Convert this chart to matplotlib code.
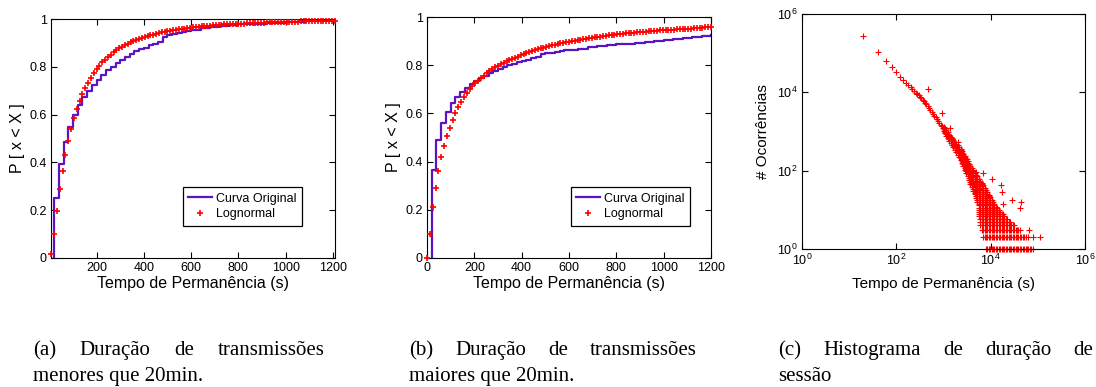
import math
import matplotlib
matplotlib.use('Agg')
import matplotlib.pyplot as plt
from matplotlib.lines import Line2D
from matplotlib.ticker import FuncFormatter, NullLocator

plt.rcParams['font.family'] = ['Liberation Sans', 'DejaVu Sans']
plt.rcParams['mathtext.fontset'] = 'custom'
plt.rcParams['mathtext.rm'] = 'Liberation Sans'
plt.rcParams['mathtext.default'] = 'regular'

PURPLE = '#5A14C4'
RED = '#FF0000'

# (a) transmissions shorter than 20 min: empirical CDF (steps every 20 s) and lognormal fit
A_ORIG_X = [20, 20, 40, 60, 80, 100, 120, 140, 160, 180, 200, 220, 240, 260, 280, 300, 320, 340, 360,
            380, 400, 420, 440, 460, 480, 500, 520, 540, 560, 580, 600, 640, 680, 720, 760, 800, 840,
            880, 920, 960, 1000, 1040, 1080, 1120, 1160, 1200]
A_ORIG_Y = [0.0, 0.25, 0.395, 0.485, 0.55, 0.60, 0.64, 0.675, 0.70, 0.725, 0.745, 0.765, 0.785, 0.80,
            0.815, 0.83, 0.84, 0.855, 0.865, 0.875, 0.88, 0.89, 0.895, 0.905, 0.925, 0.932, 0.937, 0.942,
            0.946, 0.95, 0.954, 0.961, 0.966, 0.970, 0.974, 0.977, 0.979, 0.981, 0.983, 0.985, 0.987,
            0.989, 0.991, 0.993, 0.995, 0.997]
A_LOGN_X = [8, 20, 32, 44, 56, 68, 80, 92, 104, 116, 128, 140, 152, 164, 176, 188, 200, 212, 224, 236,
            248, 260, 272, 284, 296, 308, 320, 332, 344, 356, 368, 380, 392, 404, 416, 428, 440, 452, 464,
            476, 488, 500, 512, 524, 536, 548, 560, 572, 584, 596, 608, 620, 632, 644, 656, 668, 680, 692,
            704, 716, 728, 740, 752, 764, 776, 788, 800, 812, 824, 836, 848, 860, 872, 884, 896, 908, 920,
            932, 944, 956, 968, 980, 992, 1004, 1016, 1028, 1040, 1052, 1064, 1076, 1088, 1100, 1112, 1124,
            1136, 1148, 1160, 1172, 1184, 1196, 1208]
A_LOGN_Y = [0.018, 0.101, 0.198, 0.287, 0.365, 0.433, 0.491, 0.541, 0.585, 0.623, 0.656, 0.685, 0.711,
            0.734, 0.755, 0.773, 0.790, 0.805, 0.818, 0.830, 0.841, 0.851, 0.861, 0.869, 0.877, 0.884,
            0.890, 0.897, 0.902, 0.908, 0.912, 0.917, 0.921, 0.925, 0.929, 0.932, 0.935, 0.938, 0.941,
            0.944, 0.946, 0.949, 0.951, 0.953, 0.955, 0.957, 0.959, 0.960, 0.962, 0.963, 0.965, 0.966,
            0.967, 0.969, 0.970, 0.971, 0.972, 0.973, 0.974, 0.975, 0.976, 0.977, 0.977, 0.978, 0.979,
            0.980, 0.980, 0.981, 0.981, 0.982, 0.983, 0.983, 0.984, 0.984, 0.985, 0.985, 0.986, 0.986,
            0.986, 0.987, 0.987, 0.988, 0.988, 0.988, 0.989, 0.989, 0.989, 0.989, 0.990, 0.990, 0.990,
            0.991, 0.991, 0.991, 0.991, 0.991, 0.992, 0.992, 0.992, 0.992, 0.993]

# (b) transmissions longer than 20 min
B_ORIG_X = [20, 20, 40, 60, 80, 100, 120, 140, 160, 180, 200, 220, 240, 260, 280, 300, 320, 340, 360,
            380, 400, 420, 440, 460, 480, 500, 520, 540, 560, 580, 600, 640, 680, 720, 760, 800, 840,
            880, 920, 960, 1000, 1040, 1080, 1120, 1160, 1200]
B_ORIG_Y = [0.0, 0.365, 0.49, 0.56, 0.607, 0.642, 0.668, 0.688, 0.705, 0.72, 0.733, 0.745, 0.756, 0.766,
            0.776, 0.785, 0.792, 0.799, 0.806, 0.812, 0.818, 0.823, 0.828, 0.833, 0.845, 0.849, 0.852,
            0.855, 0.858, 0.861, 0.864, 0.869, 0.874, 0.878, 0.882, 0.886, 0.890, 0.894, 0.898, 0.902,
            0.905, 0.909, 0.913, 0.917, 0.921, 0.925]
B_LOGN_X = [0, 12, 24, 36, 48, 60, 72, 84, 96, 108, 120, 132, 144, 156, 168, 180, 192, 204, 216, 228,
            240, 252, 264, 276, 288, 300, 312, 324, 336, 348, 360, 372, 384, 396, 408, 420, 432, 444, 456,
            468, 480, 492, 504, 516, 528, 540, 552, 564, 576, 588, 600, 612, 624, 636, 648, 660, 672, 684,
            696, 708, 720, 732, 744, 756, 768, 780, 792, 804, 816, 828, 840, 852, 864, 876, 888, 900, 912,
            924, 936, 948, 960, 972, 984, 996, 1008, 1020, 1032, 1044, 1056, 1068, 1080, 1092, 1104, 1116,
            1128, 1140, 1152, 1164, 1176, 1188, 1200]
B_LOGN_Y = [0.000, 0.100, 0.210, 0.290, 0.360, 0.420, 0.465, 0.505, 0.540, 0.573, 0.600, 0.625, 0.647,
            0.667, 0.685, 0.700, 0.713, 0.725, 0.736, 0.747, 0.757, 0.766, 0.775, 0.783, 0.791, 0.798,
            0.804, 0.810, 0.816, 0.821, 0.826, 0.831, 0.836, 0.841, 0.845, 0.850, 0.854, 0.858, 0.862,
            0.866, 0.870, 0.873, 0.876, 0.879, 0.882, 0.885, 0.888, 0.891, 0.893, 0.896, 0.898, 0.900,
            0.902, 0.904, 0.906, 0.908, 0.910, 0.912, 0.914, 0.916, 0.918, 0.919, 0.921, 0.922, 0.924,
            0.925, 0.927, 0.928, 0.929, 0.930, 0.932, 0.933, 0.934, 0.935, 0.936, 0.937, 0.938, 0.939,
            0.940, 0.941, 0.942, 0.943, 0.944, 0.945, 0.946, 0.946, 0.947, 0.948, 0.949, 0.949, 0.950,
            0.951, 0.952, 0.952, 0.953, 0.954, 0.955, 0.956, 0.957, 0.958, 0.959]

# (c) session duration histogram: head of the distribution, tail columns, isolated points
HEAD_X = [20, 40, 60, 80, 100, 120, 140, 160, 180, 200, 220, 240, 260, 280, 300, 320, 340, 360, 380,
          400, 430, 460, 490, 520, 560, 600, 640, 680, 720, 770, 820, 870, 920, 970]
HEAD_N = [270000, 107000, 63000, 44000, 33000, 25000, 21000, 17800, 15200, 13500, 12000, 10900, 9900,
          9100, 8400, 7700, 7050, 6500, 5950, 5500, 4950, 4400, 3950, 3570, 3160, 2820, 2530, 2280,
          2080, 1860, 1670, 1500, 1360, 1240]
TAIL_X = [1000, 1080, 1140, 1240, 1320, 1420, 1520, 1620, 1740, 1860, 2000, 2140, 2300, 2460, 2640,
          2820, 3020, 3240, 3460, 3720, 3980, 4260, 4580, 4900, 5240, 5620, 6020, 6460, 6920, 7420,
          7940, 8520, 9120, 9780, 10480, 11220, 12020, 12880, 13800, 14800, 15860, 16980, 18200, 19500,
          20900, 22380, 23980, 25700, 27540, 29520, 31620, 33880, 36300, 38900, 41680, 44660, 47860,
          51280, 54960, 58880, 63100, 67600, 72440, 77620]
TAIL_N = [
    [1020, 1150, 1300],
    [890, 1000, 1120, 1200],
    [776, 871, 977, 1070],
    [676, 759, 851, 955],
    [589, 661, 741, 830],
    [519, 582, 653, 740],
    [457, 513, 575, 646, 692],
    [398, 447, 501, 562, 617],
    [347, 389, 437, 490, 550],
    [299, 335, 376, 422, 480],
    [257, 288, 324, 363, 407, 447],
    [219, 245, 275, 309, 347, 395],
    [186, 209, 234, 263, 295, 331, 355],
    [155, 174, 195, 219, 245, 275, 309],
    [129, 145, 162, 182, 204, 229, 257, 269],
    [106, 119, 133, 150, 168, 188, 211, 232],
    [87, 98, 110, 123, 138, 155, 174, 198],
    [71, 80, 89, 100, 112, 126, 141, 158, 174],
    [58, 65, 72, 81, 91, 102, 115, 129, 148],
    [47, 52, 59, 66, 74, 83, 93, 104, 117, 131],
    [38, 43, 48, 54, 60, 68, 76, 85, 95, 107, 115],
    [31, 34, 38, 43, 48, 54, 61, 68, 76, 85, 96, 101],
    [25, 27, 31, 35, 39, 44, 49, 55, 62, 69, 78, 89],
    [20, 22, 25, 28, 32, 35, 40, 45, 50, 56, 63, 71, 79],
    [16, 18, 20, 22, 25, 28, 32, 35, 40, 45, 50, 56, 63, 72],
    [7, 8, 9, 10, 11, 13, 14, 16, 18, 20, 22, 25, 28, 32, 35, 40, 45, 50, 56, 63],
    [4, 5, 6, 7, 8, 9, 10, 11, 13, 14, 16, 18, 20, 22, 25, 28, 32, 36, 40, 45, 50, 56],
    [3, 4, 5, 6, 7, 8, 9, 10, 11, 13, 14, 16, 18, 20, 22, 25, 28, 32, 36, 40, 45, 49],
    [2, 3, 4, 5, 6, 7, 8, 9, 10, 11, 13, 14, 16, 18, 20, 22, 25, 28, 32, 36, 42],
    [2, 3, 4, 5, 6, 7, 8, 9, 10, 11, 13, 14, 16, 18, 20, 22, 25, 28, 32, 36],
    [1, 2, 3, 4, 5, 6, 7, 8, 9, 10, 11, 13, 14, 16, 18, 20, 22, 25, 28, 32],
    [1, 2, 3, 4, 5, 6, 7, 8, 9, 10, 11, 13, 14, 16, 18, 20, 22, 25, 28],
    [1, 2, 3, 4, 5, 6, 7, 8, 9, 10, 11, 13, 14, 16, 18, 20, 22, 24],
    [1, 2, 3, 4, 5, 6, 7, 8, 9, 10, 11, 13, 14, 16, 18, 21],
    [1, 2, 3, 4, 5, 6, 7, 8, 9, 10, 11, 13, 14, 16, 18],
    [1, 2, 3, 4, 5, 6, 7, 8, 9, 10, 11, 13, 14, 16],
    [1, 2, 3, 4, 5, 6, 7, 8, 9, 10, 11, 12, 14],
    [1, 2, 3, 4, 5, 6, 7, 8, 9, 10, 11, 12],
    [1, 2, 3, 4, 5, 6, 7, 8, 9, 10, 11],
    [1, 2, 3, 4, 5, 6, 7, 8, 9, 10],
    [1, 2, 3, 4, 5, 6, 7, 8, 9],
    [1, 2, 3, 4, 5, 6, 7, 8],
    [1, 2, 3, 4, 5, 6, 7, 8],
    [1, 2, 3, 4, 5, 6, 7],
    [1, 2, 3, 4, 5, 6],
    [1, 2, 3, 4, 5, 6],
    [1, 2, 3, 4, 5],
    [1, 2, 3, 4, 5],
    [1, 2, 3, 4],
    [1, 2, 3, 4],
    [1, 2, 3, 4],
    [1, 2, 3],
    [1, 2, 3],
    [1, 2, 3],
    [1, 2, 3],
    [1, 2],
    [1, 2],
    [1, 2],
    [1, 2],
    [1],
    [1, 2],
    [1],
    [1],
    [1],
]
OUT_X = [480, 940, 1380, 2000, 3160, 5000, 6800, 10500, 16600, 17400, 18200, 28200, 43700, 41700,
         64000, 78000, 112000]
OUT_N = [12500, 3000, 1230, 540, 200, 90, 88, 60, 43, 29, 14, 18, 16, 11, 3, 2, 2]

XLABEL = 'Tempo de Permanência (s)'
CAPTIONS = [('(a) Duração de transmissões', 'menores que 20min.', 33, 325),
            ('(b) Duração de transmissões', 'maiores que 20min.', 409, 697),
            ('(c) Histograma de duração de', 'sessão', 778, 1093)]

W, H = 1096, 387
fig = plt.figure(figsize=(W / 100, H / 100), dpi=100)


def style(ax):
    ax.tick_params(direction='in', top=True, right=True, length=4, width=0.8, labelsize=9, pad=3)
    for s in ax.spines.values():
        s.set_linewidth(0.8)


def cdf_panel(rect, ox, oy, lx, ly, xlim, xticks, anchor):
    ax = fig.add_axes(rect)
    ax.plot(ox, oy, color=PURPLE, lw=1.6, drawstyle='steps-post', zorder=2)
    ax.plot(lx, ly, '+', color=RED, ms=5, mew=1.2, clip_on=False, zorder=3)
    ax.set_xlim(*xlim)
    ax.set_ylim(0, 1)
    ax.set_xticks(xticks)
    ax.set_yticks([0, 0.2, 0.4, 0.6, 0.8, 1])
    ax.set_yticklabels(['0', '0.2', '0.4', '0.6', '0.8', '1'])
    ax.set_xlabel(XLABEL, fontsize=11.5, labelpad=1)
    ax.set_ylabel('P [ x < X ]', fontsize=11.5, labelpad=3)
    style(ax)
    handles = [Line2D([], [], color=PURPLE, lw=1.6),
               Line2D([], [], ls='none', marker='+', color=RED, ms=5, mew=1.2)]
    leg = ax.legend(handles, ['Curva Original', 'Lognormal'], loc='lower right', bbox_to_anchor=anchor,
                    borderaxespad=0, fontsize=9, fancybox=False, framealpha=1, edgecolor='black',
                    handlelength=1.9, handletextpad=0.3, borderpad=0.45, labelspacing=0.3)
    leg.get_frame().set_linewidth(0.9)
    return ax


cdf_panel([51 / W, 1 - 258 / H, 284 / W, 239 / H], A_ORIG_X, A_ORIG_Y, A_LOGN_X, A_LOGN_Y,
          (7, 1209), [200, 400, 600, 800, 1000, 1200], (0.884, 0.134))
cdf_panel([427 / W, 1 - 258 / H, 284 / W, 241 / H], B_ORIG_X, B_ORIG_Y, B_LOGN_X, B_LOGN_Y,
          (0, 1200), [0, 200, 400, 600, 800, 1000, 1200], (0.926, 0.133))

axc = fig.add_axes([802 / W, 1 - 249 / H, 283 / W, 235 / H])
tx, tn = [], []
for x, col in zip(TAIL_X, TAIL_N):
    tx += [x] * len(col)
    tn += col
for xs, ns in ((HEAD_X, HEAD_N), (tx, tn), (OUT_X, OUT_N)):
    axc.plot(xs, ns, '+', color=RED, ms=4.5, mew=0.8, clip_on=False)
axc.set_xscale('log')
axc.set_yscale('log')
axc.set_xlim(1, 1e6)
axc.set_ylim(1, 1e6)
fmt = FuncFormatter(lambda v, p: '10$^{%d}$' % round(math.log10(v)))
for a in (axc.xaxis, axc.yaxis):
    a.set_ticks([1, 1e2, 1e4, 1e6])
    a.set_major_formatter(fmt)
    a.set_minor_locator(NullLocator())
axc.set_xlabel(XLABEL, fontsize=11, labelpad=6)
axc.set_ylabel('# Ocorrências', fontsize=11, labelpad=5)
style(axc)

# sub-figure captions, first line justified like the LaTeX original
r = fig.canvas.get_renderer()
cap_kw = dict(family=['Liberation Serif', 'DejaVu Serif'], fontsize=15, va='baseline')
for first, second, x0, x1 in CAPTIONS:
    words = first.split()
    texts = [fig.text(0, 1 - 355 / H, w, **cap_kw) for w in words]
    widths = [t.get_window_extent(r).width for t in texts]
    gap = (x1 - x0 - sum(widths)) / (len(words) - 1)
    x = x0
    for t, w in zip(texts, widths):
        t.set_x(x / W)
        x += w + gap
    fig.text(x0 / W, 1 - 381 / H, second, **cap_kw)

fig.savefig('out.png', dpi=100)
